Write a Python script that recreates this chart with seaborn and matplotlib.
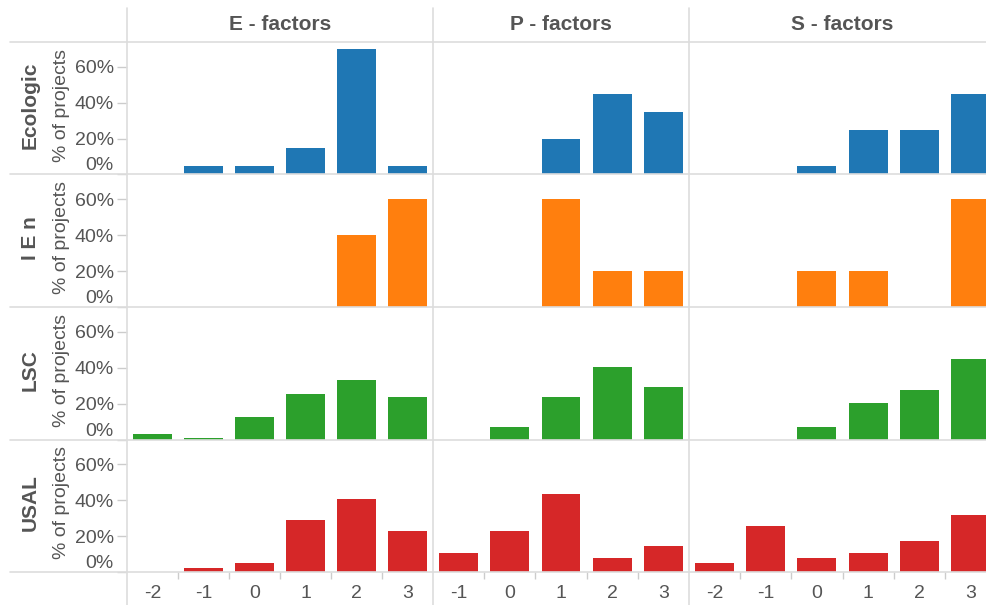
import matplotlib
matplotlib.use("Agg")
import matplotlib.pyplot as plt
import seaborn as sns
import pandas as pd
from matplotlib.lines import Line2D

sns.set_theme(style="white")
plt.rcParams['font.family'] = ['Liberation Sans', 'DejaVu Sans']

# ---------------- data ----------------
groups = ["Ecologic", "I E n", "LSC", "USAL"]
factors = ["E - factors", "P - factors", "S - factors"]
e_scores = ["-2", "-1", "0", "1", "2", "3"]
p_scores = ["-1", "0", "1", "2", "3"]
s_scores = ["-2", "-1", "0", "1", "2", "3"]

ecologic_e = [0, 5, 5, 15, 70, 5]
ecologic_p = [0, 0, 20, 45, 35]
ecologic_s = [0, 0, 5, 25, 25, 45]

ien_e = [0, 0, 0, 0, 40, 60]
ien_p = [0, 0, 60, 20, 20]
ien_s = [0, 0, 20, 20, 0, 60]

lsc_e = [3.3, 1.0, 12.3, 25.2, 33.1, 23.6]
lsc_p = [0, 6.7, 23.6, 40.4, 29.2]
lsc_s = [0, 0, 6.7, 20.2, 27.5, 44.9]

usal_e = [0, 2.2, 5.0, 28.7, 40.4, 23.0]
usal_p = [10.7, 23.0, 43.3, 7.9, 14.6]
usal_s = [5.0, 25.8, 7.9, 10.7, 17.4, 31.5]

colors = ["#1f77b4", "#ff7f0e", "#2ca02c", "#d62728"]
y_ticks = [0, 20, 40, 60]
y_tick_labels = ["0%", "20%", "40%", "60%"]

table = {
    ("Ecologic", 0): ecologic_e, ("Ecologic", 1): ecologic_p, ("Ecologic", 2): ecologic_s,
    ("I E n", 0): ien_e, ("I E n", 1): ien_p, ("I E n", 2): ien_s,
    ("LSC", 0): lsc_e, ("LSC", 1): lsc_p, ("LSC", 2): lsc_s,
    ("USAL", 0): usal_e, ("USAL", 1): usal_p, ("USAL", 2): usal_s,
}
score_lists = [e_scores, p_scores, s_scores]

# ---------------- layout (pixels) ----------------
W, H = 986, 605
fig = plt.figure(figsize=(W / 100, H / 100), dpi=100)

col_left = [127, 433, 689]
col_width = [306, 256, 307]
row_top = [42, 174.5, 307, 439.5]
row_h = 132.5
ymax = 73.7
grid_col = "#dddddd"
text_col = "#555555"

for r, g in enumerate(groups):
    for c in range(3):
        scores = score_lists[c]
        vals = table[(g, c)]
        df = pd.DataFrame({"score": scores, "pct": vals})
        ax = fig.add_axes([col_left[c] / W, 1 - (row_top[r] + row_h) / H,
                           col_width[c] / W, row_h / H])
        sns.barplot(data=df, x="score", y="pct", order=scores, color=colors[r],
                    saturation=1, width=0.76, linewidth=0, ax=ax)
        ax.set_xlim(-0.5, len(scores) - 0.5)
        ax.set_ylim(0, ymax)
        ax.set_xlabel("")
        ax.set_ylabel("")
        ax.set_facecolor("none")
        for sp in ax.spines.values():
            sp.set_visible(False)

        if c == 0:
            ax.set_yticks(y_ticks)
            ax.set_yticklabels(y_tick_labels)
            ax.tick_params(axis="y", left=True, length=7, width=1, color="#cccccc",
                           pad=2.5, labelsize=14, labelcolor=text_col)
            ax.get_yticklabels()[0].set_verticalalignment("bottom")
        else:
            ax.set_yticks([])

        if r == len(groups) - 1:
            ax.set_xticks(range(len(scores)))
            ax.set_xticklabels(scores)
            ax.set_xticks([i + 0.5 for i in range(len(scores) - 1)], minor=True)
            ax.tick_params(axis="x", which="major", bottom=True, length=0, pad=9,
                           labelsize=14, labelcolor=text_col)
            ax.tick_params(axis="x", which="minor", bottom=True, length=5, width=1,
                           color="#cccccc")
        else:
            ax.set_xticks([])

    cy = 1 - (row_top[r] + row_h / 2 - 3) / H
    fig.text(30 / W, cy, g, rotation=90, ha="center", va="center",
             fontsize=15, fontweight="bold", color=text_col)
    fig.text(62 / W, cy, "% of projects", rotation=90, ha="center", va="center",
             fontsize=14, color=text_col)

for c, f in enumerate(factors):
    cx = (col_left[c] + 153) / W if c != 1 else (col_left[c] + col_width[c] / 2) / W
    fig.text(cx, 1 - 24 / H, f, ha="center", va="center",
             fontsize=15, fontweight="bold", color=text_col)

# divider lines
for x in col_left:
    fig.add_artist(Line2D([x / W, x / W], [1 - 8 / H, 0], color=grid_col, lw=1.2))
for y in row_top + [row_top[-1] + row_h]:
    fig.add_artist(Line2D([10 / W, 1], [1 - y / H, 1 - y / H], color=grid_col, lw=1.2))

fig.savefig("out.png", dpi=100)
